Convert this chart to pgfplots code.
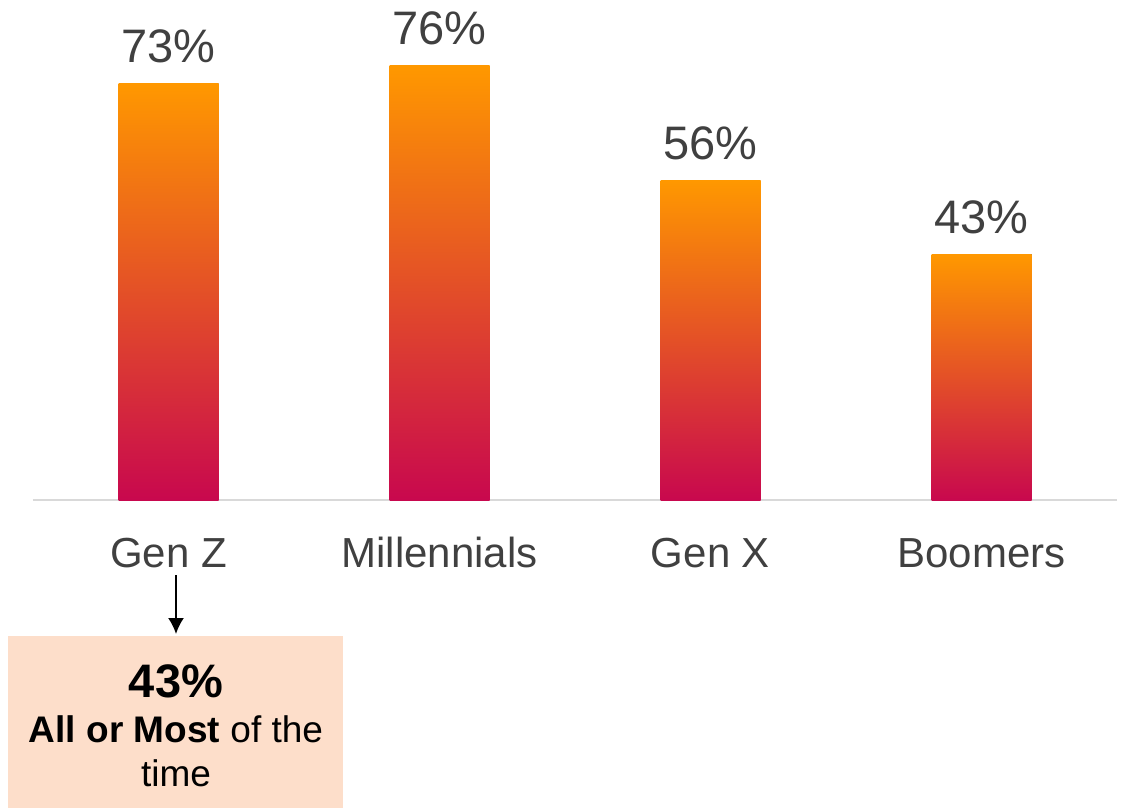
\documentclass[border=0pt]{standalone}
\usepackage{pgfplots}
\pgfplotsset{compat=1.18}
\usetikzlibrary{arrows.meta}
\usepackage{fontspec}
\setmainfont{Liberation Sans}
\definecolor{bartop}{RGB}{255,152,0}
\definecolor{barmid}{RGB}{234,88,38}
\definecolor{barbot}{RGB}{200,8,78}
\definecolor{lbl}{RGB}{64,64,64}
\definecolor{axisgray}{RGB}{217,217,217}
\definecolor{boxfill}{RGB}{253,222,202}
\begin{document}
\begin{tikzpicture}
  \begin{axis}[
      at={(16.5pt,-250pt)}, anchor=south west,
      scale only axis, width=542pt, height=228.5pt,
      xmin=-0.5, xmax=3.5, ymin=0, ymax=80,
      ybar, bar width=50pt, bar shift=0pt, clip=false,
      axis x line=bottom, axis y line=none,
      axis line style={draw=axisgray, line width=1pt, -},
      xtick={0,1,2,3},
      xticklabels={Gen Z, Millennials, Gen X, Boomers},
      major tick length=0pt, ytick=\empty,
      /pgf/number format/assume math mode=true,
      xticklabel style={font=\fontsize{21}{25}\selectfont, text=lbl,
        inner sep=0pt, anchor=base, yshift=-33.5pt},
      nodes near coords={\pgfmathprintnumber{\pgfplotspointmeta}\%},
      nodes near coords style={font=\fontsize{23.5}{28}\selectfont, text=lbl,
        inner sep=0pt, anchor=base, yshift=10.5pt},
      every axis plot/.append style={draw=none, top color=bartop,
        middle color=barmid, bottom color=barbot}
    ]
    % one plot per bar so each bar gets its own gradient
    \addplot coordinates {(0,73)};
    \addplot coordinates {(1,76)};
    \addplot coordinates {(2,56)};
    \addplot coordinates {(3,43)};
  \end{axis}
  \begin{scope}[x=0.5pt, y=-0.5pt]
    \fill[boxfill] (8,636) rectangle (343,808);
    \draw[line width=1pt, -{Latex[length=8pt,width=8pt]}] (176,575) -- (176,634);
    \node[anchor=base, font=\fontsize{23.5}{28}\selectfont\bfseries] at (176,697) {43\%};
    \node[anchor=base, font=\fontsize{18.5}{22}\selectfont] at (176,742) {\textbf{All or Most} of the};
    \node[anchor=base, font=\fontsize{18.5}{22}\selectfont] at (176,786) {time};
    \pgfresetboundingbox
    \path[use as bounding box] (0,0) rectangle (1127,810);
  \end{scope}
\end{tikzpicture}
\end{document}
